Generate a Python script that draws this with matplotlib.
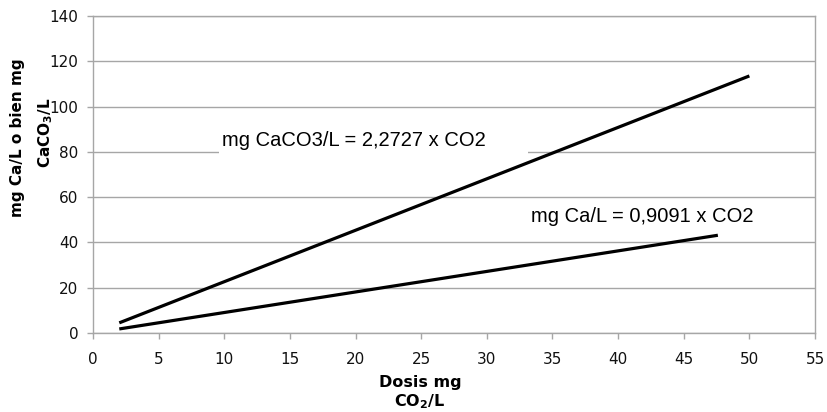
import numpy as np
import matplotlib.pyplot as plt
from matplotlib.patches import Rectangle

# data
dose_caco3 = [2, 50]
caco3 = [4.5, 113.6]
dose_ca = [2, 47.6]
ca = [1.8, 43.2]
x_ticks = [0, 5, 10, 15, 20, 25, 30, 35, 40, 45, 50, 55]
y_ticks = [0, 20, 40, 60, 80, 100, 120, 140]
label_caco3 = "mg CaCO3/L = 2,2727 x CO2"
label_ca = "mg Ca/L = 0,9091 x CO2"

grey = '#a6a6a6'

fig = plt.figure(figsize=(8.27, 4.12), dpi=100)
ax = fig.add_axes([0.1125, 0.1917, 0.873, 0.769])

ax.plot(dose_caco3, caco3, color='black', lw=2.3, zorder=3, solid_capstyle='butt')
ax.plot(dose_ca, ca, color='black', lw=2.3, zorder=3, solid_capstyle='butt')

ax.set_xlim(0, 55)
ax.set_ylim(0, 140)
ax.set_xticks(x_ticks)
ax.set_yticks(y_ticks)
ax.set_axisbelow(True)
ax.grid(axis='y', color=grey, lw=1.0)
for s in ax.spines.values():
    s.set_color(grey)
    s.set_linewidth(1.0)
ax.tick_params(axis='both', colors=grey, labelcolor='#111111', labelsize=11,
               length=4.5, width=1.0)
ax.tick_params(axis='x', pad=9)
ax.tick_params(axis='y', pad=6)

# white box behind the first label hides the gridline
ax.add_patch(Rectangle((9.6, 76.5), 23.5, 15, facecolor='white',
                       edgecolor='none', zorder=1.5))
ax.text(9.85, 85.2, label_caco3, fontsize=14.5, family='Liberation Sans',
        va='center', ha='left', zorder=4)
ax.text(33.4, 51.4, label_ca, fontsize=14.5, family='Liberation Sans',
        va='center', ha='left', zorder=4)

# axis titles, two lines each
fig.text(18 / 827, 1 - 137.5 / 412, "mg Ca/L o bien mg", rotation=90,
         fontsize=11, fontweight='bold', ha='center', va='center')
fig.text(46 / 827, 1 - 133 / 412, r"CaCO$_\mathbf{3}$/L", rotation=90,
         fontsize=11, fontweight='bold', ha='center', va='center')
fig.text(420 / 827, 1 - 383 / 412, "Dosis mg", fontsize=11.5,
         fontweight='bold', ha='center', va='center')
fig.text(420 / 827, 1 - 402 / 412, r"CO$_\mathbf{2}$/L", fontsize=11.5,
         fontweight='bold', ha='center', va='center')

fig.savefig('out.png', dpi=100)
